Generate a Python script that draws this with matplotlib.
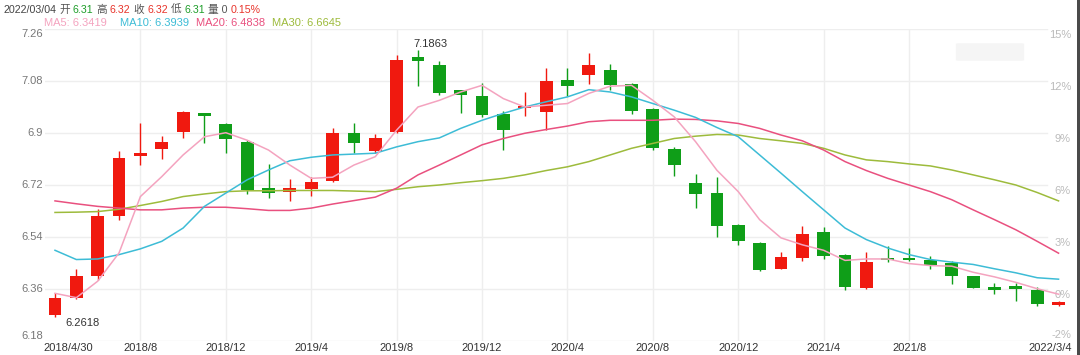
import matplotlib
matplotlib.use("Agg")
import matplotlib.pyplot as plt
import matplotlib.transforms as mtransforms
from matplotlib.patches import Rectangle, FancyBboxPatch
import pandas as pd

plt.rcParams['font.family'] = ['Liberation Sans', 'Noto Sans CJK SC', 'DejaVu Sans']

# monthly candles, April 2018 .. March 2022
months = pd.period_range('2018-04', periods=48, freq='M')

opens = [6.270, 6.330, 6.405, 6.614, 6.822, 6.843, 6.903, 6.968, 6.931, 6.868,
         6.711, 6.697, 6.707, 6.733, 6.901, 6.839, 6.904, 7.163, 7.134, 7.048,
         7.027, 6.965, 6.988, 6.973, 7.082, 7.100, 7.117, 7.069, 6.982, 6.843,
         6.726, 6.694, 6.582, 6.519, 6.430, 6.468, 6.556, 6.479, 6.364, 6.463,
         6.466, 6.462, 6.450, 6.404, 6.368, 6.372, 6.356, 6.305]
closes = [6.330, 6.405, 6.613, 6.815, 6.830, 6.868, 6.973, 6.958, 6.878, 6.701,
          6.693, 6.709, 6.732, 6.901, 6.864, 6.881, 7.154, 7.148, 7.039, 7.033,
          6.964, 6.910, 6.992, 7.080, 7.062, 7.134, 7.065, 6.976, 6.849, 6.788,
          6.689, 6.579, 6.527, 6.427, 6.470, 6.550, 6.475, 6.368, 6.453, 6.460,
          6.459, 6.442, 6.404, 6.364, 6.356, 6.361, 6.309, 6.316]
highs = [6.345, 6.430, 6.636, 6.838, 6.933, 6.889, 6.975, 6.970, 6.933, 6.875,
         6.792, 6.740, 6.749, 6.916, 6.933, 6.895, 7.169, 7.1863, 7.149, 7.050,
         7.073, 6.977, 7.042, 7.125, 7.125, 7.177, 7.138, 7.072, 6.987, 6.852,
         6.757, 6.749, 6.585, 6.521, 6.487, 6.577, 6.574, 6.482, 6.487, 6.508,
         6.502, 6.473, 6.456, 6.406, 6.381, 6.381, 6.366, 6.320]
lows = [6.2618, 6.325, 6.390, 6.600, 6.790, 6.809, 6.883, 6.866, 6.830, 6.690,
        6.675, 6.665, 6.682, 6.730, 6.830, 6.830, 6.900, 7.062, 7.031, 6.970,
        6.956, 6.841, 6.958, 6.910, 7.027, 7.071, 7.050, 6.965, 6.841, 6.751,
        6.642, 6.540, 6.513, 6.424, 6.428, 6.456, 6.465, 6.358, 6.361, 6.453,
        6.457, 6.430, 6.379, 6.362, 6.341, 6.318, 6.301, 6.302]

ma5 = [6.345, 6.330, 6.387, 6.485, 6.680, 6.749, 6.824, 6.887, 6.901, 6.875,
       6.841, 6.789, 6.743, 6.747, 6.789, 6.818, 6.910, 6.990, 7.013, 7.042,
       7.065, 7.019, 6.990, 6.996, 7.002, 7.037, 7.062, 7.065, 7.013, 6.956,
       6.870, 6.771, 6.697, 6.600, 6.537, 6.513, 6.494, 6.459, 6.464, 6.464,
       6.448, 6.441, 6.439, 6.418, 6.402, 6.383, 6.361, 6.342]
ma10 = [6.494, 6.462, 6.464, 6.479, 6.499, 6.525, 6.571, 6.646, 6.692, 6.738,
        6.772, 6.804, 6.816, 6.824, 6.827, 6.830, 6.852, 6.870, 6.883, 6.916,
        6.944, 6.968, 6.990, 7.008, 7.025, 7.050, 7.042, 7.025, 7.002, 6.979,
        6.954, 6.919, 6.887, 6.824, 6.761, 6.697, 6.634, 6.571, 6.531, 6.502,
        6.479, 6.462, 6.453, 6.445, 6.430, 6.416, 6.399, 6.394]
ma20 = [6.665, 6.655, 6.646, 6.640, 6.634, 6.634, 6.640, 6.643, 6.643, 6.638,
        6.632, 6.632, 6.640, 6.654, 6.666, 6.678, 6.709, 6.755, 6.789, 6.824,
        6.859, 6.881, 6.899, 6.912, 6.924, 6.939, 6.944, 6.944, 6.944, 6.948,
        6.947, 6.942, 6.933, 6.916, 6.893, 6.873, 6.841, 6.801, 6.770, 6.743,
        6.720, 6.697, 6.669, 6.634, 6.600, 6.565, 6.525, 6.484]
ma30 = [6.625, 6.626, 6.628, 6.636, 6.649, 6.663, 6.680, 6.689, 6.697, 6.700,
        6.700, 6.701, 6.701, 6.701, 6.699, 6.697, 6.705, 6.714, 6.720, 6.728,
        6.735, 6.743, 6.755, 6.770, 6.783, 6.801, 6.824, 6.847, 6.864, 6.881,
        6.889, 6.895, 6.893, 6.881, 6.873, 6.864, 6.847, 6.824, 6.807, 6.801,
        6.793, 6.786, 6.772, 6.755, 6.738, 6.720, 6.694, 6.665]

price_ticks = [7.26, 7.08, 6.9, 6.72, 6.54, 6.36, 6.18]
pct_labels = ['15%', '12%', '9%', '6%', '3%', '0%', '-2%']
tick_months = ['2018-04', '2018-08', '2018-12', '2019-04', '2019-08', '2019-12',
               '2020-04', '2020-08', '2020-12', '2021-04', '2021-08', '2022-03']
tick_labels = ['2018/4/30', '2018/8', '2018/12', '2019/4', '2019/8', '2019/12',
               '2020/4', '2020/8', '2020/12', '2021/4', '2021/8', '2022/3/4']

header = [('2022/03/04', '#444444'), ('开', '#555555'), ('6.31', '#1f9e2a'),
          ('高', '#555555'), ('6.32', '#e8332a'), ('收', '#555555'),
          ('6.32', '#e8332a'), ('低', '#555555'), ('6.31', '#1f9e2a'),
          ('量 0', '#555555'), ('0.15%', '#e8332a')]
legend_items = [('MA5: 6.3419', '#f4a3bf'), ('MA10: 6.3939', '#3dbcd6'),
                ('MA20: 6.4838', '#e9507f'), ('MA30: 6.6645', '#9dbb3c')]

UP = '#f0190f'
DOWN = '#0f9e18'
GRID = '#eeeeee'
W, H = 1080, 355

fig = plt.figure(figsize=(W / 100, H / 100), dpi=100)
ax = fig.add_axes([45 / W, 1 - 341 / H, 1027 / W, 312 / H])
ax.set_xlim(-0.468, 47.63)
ax.set_ylim(6.18, 7.26)
ax.set_axis_off()

x = list(range(len(months)))
grid_end = (1047 - 45) / 1027

# grid
for p in price_ticks:
    ax.axhline(p, xmin=0, xmax=grid_end, color=GRID, lw=1, zorder=0)
month_str = [str(m) for m in months]
tick_idx = [month_str.index(m) for m in tick_months]
for i in tick_idx[1:-1]:
    ax.axvline(i, color=GRID, lw=1, zorder=0)

# candles
for i in x:
    o, c = opens[i], closes[i]
    col = UP if c >= o else DOWN
    ax.vlines(i, lows[i], highs[i], color=col, lw=1.0, zorder=2)
    ax.bar(i, max(abs(c - o), 0.006), bottom=min(o, c), width=0.6,
           color=col, linewidth=0, zorder=3)

# moving averages
ax.plot(x, ma30, color='#9dbb3c', lw=1.1, zorder=4)
ax.plot(x, ma20, color='#e9507f', lw=1.1, zorder=4)
ax.plot(x, ma10, color='#3dbcd6', lw=1.1, zorder=4)
ax.plot(x, ma5, color='#f4a3bf', lw=1.1, zorder=4)

# max / min annotations
i_hi = highs.index(max(highs))
i_lo = lows.index(min(lows))
ax.annotate(f'{highs[i_hi]:.4f}', (i_hi, highs[i_hi]), xytext=(-3.6, 4.5),
            textcoords='offset points', ha='left', va='center', fontsize=8, color='#333333')
ax.annotate(f'{lows[i_lo]:.4f}', (i_lo, lows[i_lo]), xytext=(7.2, -4.3),
            textcoords='offset points', ha='left', va='center', fontsize=8, color='#333333')

# y labels, left (price) and right (percent)
ytr = ax.get_yaxis_transform()
down1 = mtransforms.offset_copy(ytr, fig=fig, y=-1, units='dots')
up1 = mtransforms.offset_copy(ytr, fig=fig, y=1, units='dots')
n = len(price_ticks)
for k, (p, lab) in enumerate(zip(price_ticks, pct_labels)):
    if k == 0:
        va_l = 'top'
    elif k == n - 1:
        va_l = 'bottom'
    else:
        va_l = 'center'
    ax.text(-0.002, p, f'{p:g}', transform=ytr, ha='right', va=va_l,
            fontsize=8, color='#777777')
    if k == n - 1:
        ax.text(0.999, p, lab, transform=up1, ha='right', va='bottom',
                fontsize=8, color='#bbbbbb')
    else:
        ax.text(0.999, p, lab, transform=down1, ha='right', va='top',
                fontsize=8, color='#bbbbbb')

# x labels
xtr = ax.get_xaxis_transform()
for j, (i, lab) in enumerate(zip(tick_idx, tick_labels)):
    if j == 0:
        ax.text(-0.002, -7 / 312, lab, transform=ax.transAxes, ha='left', va='center',
                fontsize=8, color='#333333')
    elif j == len(tick_idx) - 1:
        ax.text(1.0, -7 / 312, lab, transform=ax.transAxes, ha='right', va='center',
                fontsize=8, color='#333333')
    else:
        ax.text(i, -7 / 312, lab, transform=xtr, ha='center', va='center',
                fontsize=8, color='#333333')

# header line
renderer = fig.canvas.get_renderer()
px = 3
for s, c in header:
    t = fig.text(px / W, 1 - 10 / H, s, color=c, fontsize=7.7, ha='left', va='center')
    bb = t.get_window_extent(renderer)
    px = bb.x1 + 3

# MA legend
for k, (s, c) in enumerate(legend_items):
    fig.text((44 + 76 * k) / W, 1 - 22.5 / H, s, color=c, fontsize=8, ha='left', va='center')

# blurred watermark and right border
fig.patches.append(FancyBboxPatch((958 / W, 1 - 60 / H), 64 / W, 16 / H,
                                  boxstyle='round,pad=0.002', transform=fig.transFigure,
                                  facecolor='#f5f5f5', edgecolor='none', zorder=0))
fig.patches.append(Rectangle((1077 / W, 0), 3 / W, 1, transform=fig.transFigure,
                             facecolor='#4a4a4a', edgecolor='none'))

fig.savefig('out.png', dpi=100)
